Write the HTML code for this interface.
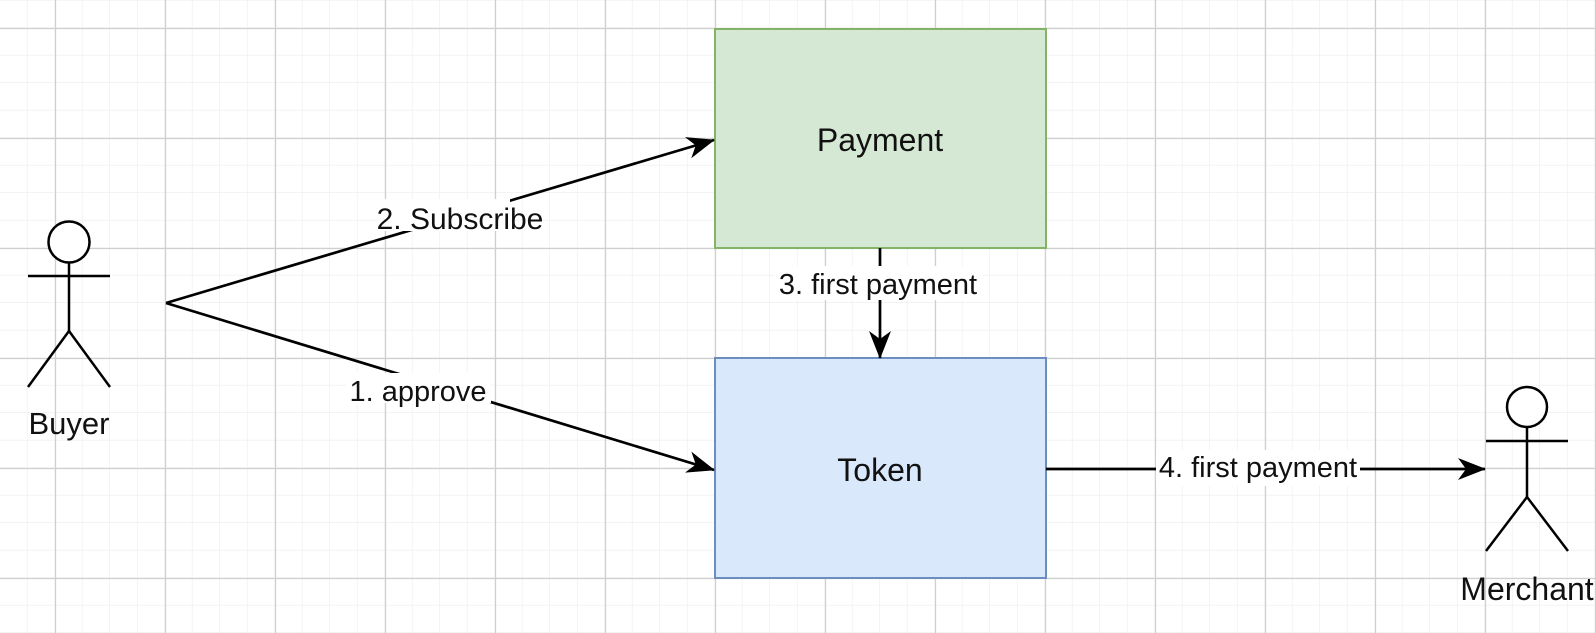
<!DOCTYPE html>
<html><head><meta charset="utf-8"><style>
html,body{margin:0;padding:0;background:#fff;}
svg{display:block;}
text{font-family:"Liberation Sans",Arial,sans-serif;fill:#111;}
</style></head><body>
<svg width="1596" height="633" viewBox="0 0 1596 633" xmlns="http://www.w3.org/2000/svg">
<defs>
<pattern id="minor" x="0" y="0.5" width="27.5" height="27.5" patternUnits="userSpaceOnUse">
<path d="M27.5 0 V27.5 M0 27.5 H27.5" stroke="#ececec" stroke-width="1.2" fill="none"/>
</pattern>
<pattern id="major" x="55" y="28" width="110" height="110" patternUnits="userSpaceOnUse">
<path d="M0.5 0 V110 M0 0.5 H110" stroke="#cfcfcf" stroke-width="1.3" fill="none"/>
</pattern>
<marker id="ah" viewBox="0 0 28 22" refX="27" refY="11" markerWidth="28" markerHeight="22" markerUnits="userSpaceOnUse" orient="auto">
<path d="M0 0 L28 11 L0 22 L8 11 Z" fill="#000"/>
</marker>
</defs>
<rect width="1596" height="633" fill="url(#minor)"/>
<rect width="1596" height="633" fill="url(#major)"/>

<!-- boxes -->
<rect x="715" y="29" width="331" height="219" fill="#d5e8d4" stroke="#82b366" stroke-width="2"/>
<text x="880" y="151" font-size="32" text-anchor="middle">Payment</text>
<rect x="715" y="358" width="331" height="220" fill="#dae8fc" stroke="#6c8ebf" stroke-width="2"/>
<text x="880" y="481" font-size="32" text-anchor="middle">Token</text>

<!-- connectors -->
<g stroke="#000" stroke-width="2.7" fill="none">
<line x1="166" y1="303" x2="714" y2="140" marker-end="url(#ah)"/>
<line x1="166" y1="303" x2="714" y2="470" marker-end="url(#ah)"/>
<line x1="880" y1="248" x2="880" y2="358" marker-end="url(#ah)"/>
<line x1="1046" y1="469" x2="1485" y2="469" marker-end="url(#ah)"/>
</g>

<!-- labels -->
<rect x="380" y="199" width="130" height="32" fill="#fff"/>
<rect x="380" y="229" width="10" height="10" fill="#fff" opacity="0"/>
<text x="460" y="229" font-size="30" text-anchor="middle">2. Subscribe</text>
<rect x="346" y="373" width="145" height="30" fill="#fff"/>
<text x="418" y="401" font-size="29" text-anchor="middle">1. approve</text>
<rect x="774" y="266" width="208" height="34" fill="#fff"/>
<text x="878" y="294" font-size="29" text-anchor="middle">3. first payment</text>
<rect x="1156" y="450" width="204" height="36" fill="#fff"/>
<text x="1258" y="477" font-size="29" text-anchor="middle">4. first payment</text>

<!-- Buyer -->
<g stroke="#000" stroke-width="2.5" fill="none">
<circle cx="69" cy="242" r="20.5" fill="#fff"/>
<line x1="69" y1="262" x2="69" y2="331"/>
<line x1="28" y1="276" x2="110" y2="276"/>
<line x1="69" y1="331" x2="28" y2="387"/>
<line x1="69" y1="331" x2="110" y2="387"/>
</g>
<text x="69" y="434" font-size="31" text-anchor="middle">Buyer</text>

<!-- Merchant -->
<g stroke="#000" stroke-width="2.5" fill="none">
<circle cx="1527" cy="407" r="20" fill="#fff"/>
<line x1="1527" y1="427" x2="1527" y2="497"/>
<line x1="1486" y1="441" x2="1568" y2="441"/>
<line x1="1527" y1="497" x2="1486" y2="551"/>
<line x1="1527" y1="497" x2="1568" y2="551"/>
</g>
<text x="1527" y="600" font-size="32" text-anchor="middle">Merchant</text>
</svg>
</body></html>
